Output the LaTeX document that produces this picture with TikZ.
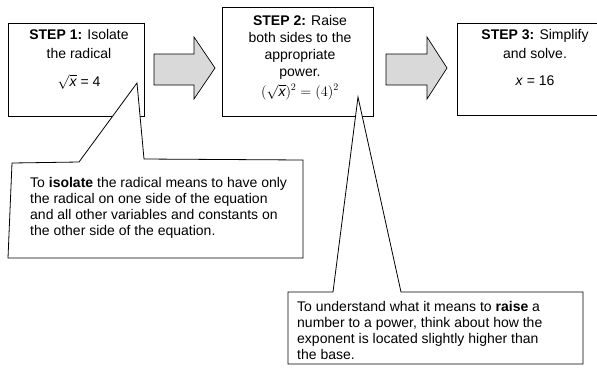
\documentclass[tikz,border=0pt]{standalone}
\usepackage{fontspec}
\setmainfont{Liberation Sans}
\begin{document}
\begin{tikzpicture}[x=1pt,y=-1pt,
  box/.style={draw, line width=0.9pt, inner sep=0, anchor=north west},
  blockarrow/.style={draw, fill=gray!30, line width=0.7pt, line join=miter},
  callout/.style={draw, fill=white, line width=0.8pt, line join=miter},
  steptext/.style={align=center, inner sep=0, anchor=north, font=\fontsize{14}{19}\selectfont},
  notetext/.style={align=left, inner sep=0, anchor=north west, font=\fontsize{14}{16.2}\selectfont}]
\useasboundingbox (0,0) rectangle (597,376);
% step boxes
\node[box, minimum width=136pt, minimum height=93pt] (s1) at (8,23) {};
\node[box, minimum width=151pt, minimum height=109pt] (s2) at (222,7) {};
\node[box, minimum width=139.5pt, minimum height=92pt] (s3) at (457,23) {};
% block arrows
\coordinate (a1) at (154,54);
\coordinate (a2) at (386,54);
\draw[blockarrow] (a1) -- ++(40,0) -- ++(0,-17) -- ++(21,31) -- ++(-21,31) -- ++(0,-14) -- ++(-40,0) -- cycle;
\draw[blockarrow] (a2) -- ++(41,0) -- ++(0,-17) -- ++(20,31) -- ++(-20,31) -- ++(0,-14) -- ++(-41,0) -- cycle;
% step texts
\node[steptext] (t1) at (79,29) {\textbf{STEP 1:} Isolate\\the radical\\[9pt]$\sqrt{\textit{x}}$ = 4};
\node[steptext, font=\fontsize{14}{17.2}\selectfont] (t2) at (300,15) {\textbf{STEP 2:} Raise\\both sides to the\\appropriate\\power.\\[2pt]$(\sqrt{\textit{x}})^2 = (4)^2$};
\node[steptext] (t3) at (535,29) {\textbf{STEP 3:} Simplify\\and solve.\\[8pt]\textit{x} = 16};
% callouts
\coordinate (p1) at (137,83);
\coordinate (p2) at (358,97);
\draw[callout] (12,163) -- (79,162) -- (p1) -- (144,159) -- (303,160) -- (303,258) -- (8,258) -- cycle;
\draw[callout] (288,292) -- (333,292) -- (p2) -- (401,292) -- (583,292) -- (583,364) -- (288,364) -- cycle;
\node[notetext] (n1) at (30,177) {To \textbf{isolate} the radical means to have only\\the radical on one side of the equation\\and all other variables and constants on\\the other side of the equation.};
\node[notetext] (n2) at (297,301) {To understand what it means to \textbf{raise} a\\number to a power, think about how the\\exponent is located slightly higher than\\the base.};
\end{tikzpicture}
\end{document}
